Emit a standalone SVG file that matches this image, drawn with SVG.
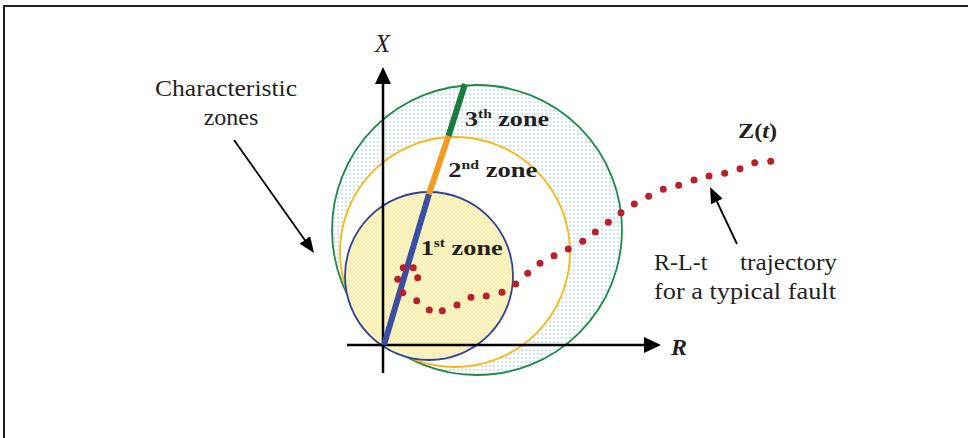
<svg xmlns="http://www.w3.org/2000/svg" width="968" height="438" viewBox="0 0 968 438">
<style>
.lbl{font-family:"Liberation Serif","Times New Roman",serif;fill:#231f20}
.zone{font-family:"Liberation Serif","Times New Roman",serif;font-weight:bold;fill:#231f20;font-size:22px}
.sup{font-size:13px}
.dot{fill:#b7212b}
.ptr{stroke:#000;stroke-width:1.8;fill:none;marker-end:url(#ptrHead)}
.axis{stroke:#000;stroke-width:2.5;fill:none;marker-end:url(#axisHead)}
</style>
<defs>
<pattern id="dots" width="4" height="4" patternUnits="userSpaceOnUse">
<rect width="4" height="4" fill="#ffffff"/>
<circle cx="2" cy="2" r="0.8" fill="#93bbe8"/>
</pattern>
<pattern id="hatch" width="4" height="4" patternUnits="userSpaceOnUse">
<rect width="4" height="4" fill="#fcf6c6"/>
<path d="M0,4 L4,0 M0,0 L4,4" stroke="#f2e8a4" stroke-width="0.6"/>
</pattern>
<marker id="axisHead" viewBox="0 0 17 16" refX="0" refY="8" markerWidth="17" markerHeight="16" markerUnits="userSpaceOnUse" orient="auto">
<path d="M0,0 L17,8 L0,16 z" fill="#000"/>
</marker>
<marker id="ptrHead" viewBox="0 0 16 13" refX="0" refY="6.5" markerWidth="16" markerHeight="13" markerUnits="userSpaceOnUse" orient="auto">
<path d="M0,0 L16,6.5 L0,13 z" fill="#000"/>
</marker>
</defs>
<rect width="968" height="438" fill="#fff"/>
<path d="M4,438 V6 H968" fill="none" stroke="#231f20" stroke-width="2"/>

<g id="zones">
<circle id="zone3" cx="477" cy="230" r="145" fill="url(#dots)" stroke="#1d8a45" stroke-width="1.8"/>
<circle id="zone2" cx="455" cy="252" r="115" fill="#fff" stroke="#f6b80f" stroke-width="1.8"/>
<circle id="zone1" cx="429" cy="276" r="84" fill="url(#hatch)" stroke="#2f4199" stroke-width="1.8"/>
</g>

<g id="axes">
<line class="axis" x1="383" y1="373" x2="383" y2="84"/>
<line class="axis" x1="347" y1="345" x2="644" y2="345"/>
</g>

<g id="impedance-line" stroke-width="6" stroke-linecap="butt">
<line x1="384" y1="345" x2="429" y2="194" stroke="#3a4ea6"/>
<line x1="429" y1="194" x2="448.5" y2="136" stroke="#f39b1f"/>
<line x1="448.5" y1="136" x2="465" y2="84" stroke="#1b7d3d"/>
</g>

<g id="trajectory">
<circle class="dot" cx="403.3" cy="267.7" r="3.5"/>
<circle class="dot" cx="413.3" cy="267.7" r="3.5"/>
<circle class="dot" cx="397.7" cy="279.3" r="3.5"/>
<circle class="dot" cx="417.7" cy="277.7" r="3.5"/>
<circle class="dot" cx="402.7" cy="292.7" r="3.5"/>
<circle class="dot" cx="416.7" cy="300.7" r="3.5"/>
<circle class="dot" cx="429.3" cy="310" r="3.5"/>
<circle class="dot" cx="442.3" cy="310.7" r="3.5"/>
<circle class="dot" cx="457" cy="305" r="3.5"/>
<circle class="dot" cx="471" cy="297.3" r="3.5"/>
<circle class="dot" cx="486.3" cy="296" r="3.5"/>
<circle class="dot" cx="502" cy="292.3" r="3.5"/>
<circle class="dot" cx="515.7" cy="284" r="3.5"/>
<circle class="dot" cx="527.7" cy="273.3" r="3.5"/>
<circle class="dot" cx="540" cy="263.3" r="3.5"/>
<circle class="dot" cx="554" cy="255.7" r="3.5"/>
<circle class="dot" cx="568.3" cy="249" r="3.5"/>
<circle class="dot" cx="582.7" cy="241.3" r="3.5"/>
<circle class="dot" cx="595.3" cy="232" r="3.5"/>
<circle class="dot" cx="608.3" cy="222.3" r="3.5"/>
<circle class="dot" cx="621" cy="212.7" r="3.5"/>
<circle class="dot" cx="634.3" cy="204" r="3.5"/>
<circle class="dot" cx="648.7" cy="196.3" r="3.5"/>
<circle class="dot" cx="663.3" cy="189.3" r="3.5"/>
<circle class="dot" cx="678.7" cy="185.3" r="3.5"/>
<circle class="dot" cx="694" cy="180" r="3.5"/>
<circle class="dot" cx="709" cy="176" r="3.5"/>
<circle class="dot" cx="724.7" cy="173.3" r="3.5"/>
<circle class="dot" cx="740" cy="168.7" r="3.5"/>
<circle class="dot" cx="754.7" cy="162.7" r="3.5"/>
<circle class="dot" cx="770.7" cy="161.3" r="3.5"/>
</g>

<g id="connectors">
<line class="ptr" x1="234" y1="140" x2="304.8" y2="239.9"/>
<line class="ptr" x1="737" y1="244" x2="716.9" y2="201.5"/>
</g>

<g id="labels">
<text class="lbl" x="382.5" y="52" font-size="25" font-style="italic" text-anchor="middle">X</text>
<text class="lbl" x="671" y="355" font-size="24" font-style="italic" font-weight="bold">R</text>
<text class="lbl" x="738" y="138" font-size="20" font-weight="bold" textLength="39" lengthAdjust="spacingAndGlyphs">Z(<tspan font-style="italic">t</tspan>)</text>
<text class="lbl" x="155" y="96" font-size="24" textLength="142" lengthAdjust="spacingAndGlyphs">Characteristic</text>
<text class="lbl" x="231" y="125" font-size="24" text-anchor="middle">zones</text>
<text class="lbl" font-size="24" y="270"><tspan x="654">R-L-t </tspan><tspan x="740" textLength="97" lengthAdjust="spacingAndGlyphs">trajectory</tspan></text>
<text class="lbl" x="654" y="299" font-size="24" textLength="182" lengthAdjust="spacingAndGlyphs">for a typical fault</text>
<text class="zone" x="465" y="126" textLength="84" lengthAdjust="spacingAndGlyphs">3<tspan class="sup" dy="-8">th</tspan><tspan dy="8"> zone</tspan></text>
<text class="zone" x="448.3" y="176.5" textLength="89" lengthAdjust="spacingAndGlyphs">2<tspan class="sup" dy="-8">nd</tspan><tspan dy="8"> zone</tspan></text>
<text class="zone" x="420.7" y="255" textLength="82" lengthAdjust="spacingAndGlyphs">1<tspan class="sup" dy="-8">st</tspan><tspan dy="8"> zone</tspan></text>
</g>
</svg>
